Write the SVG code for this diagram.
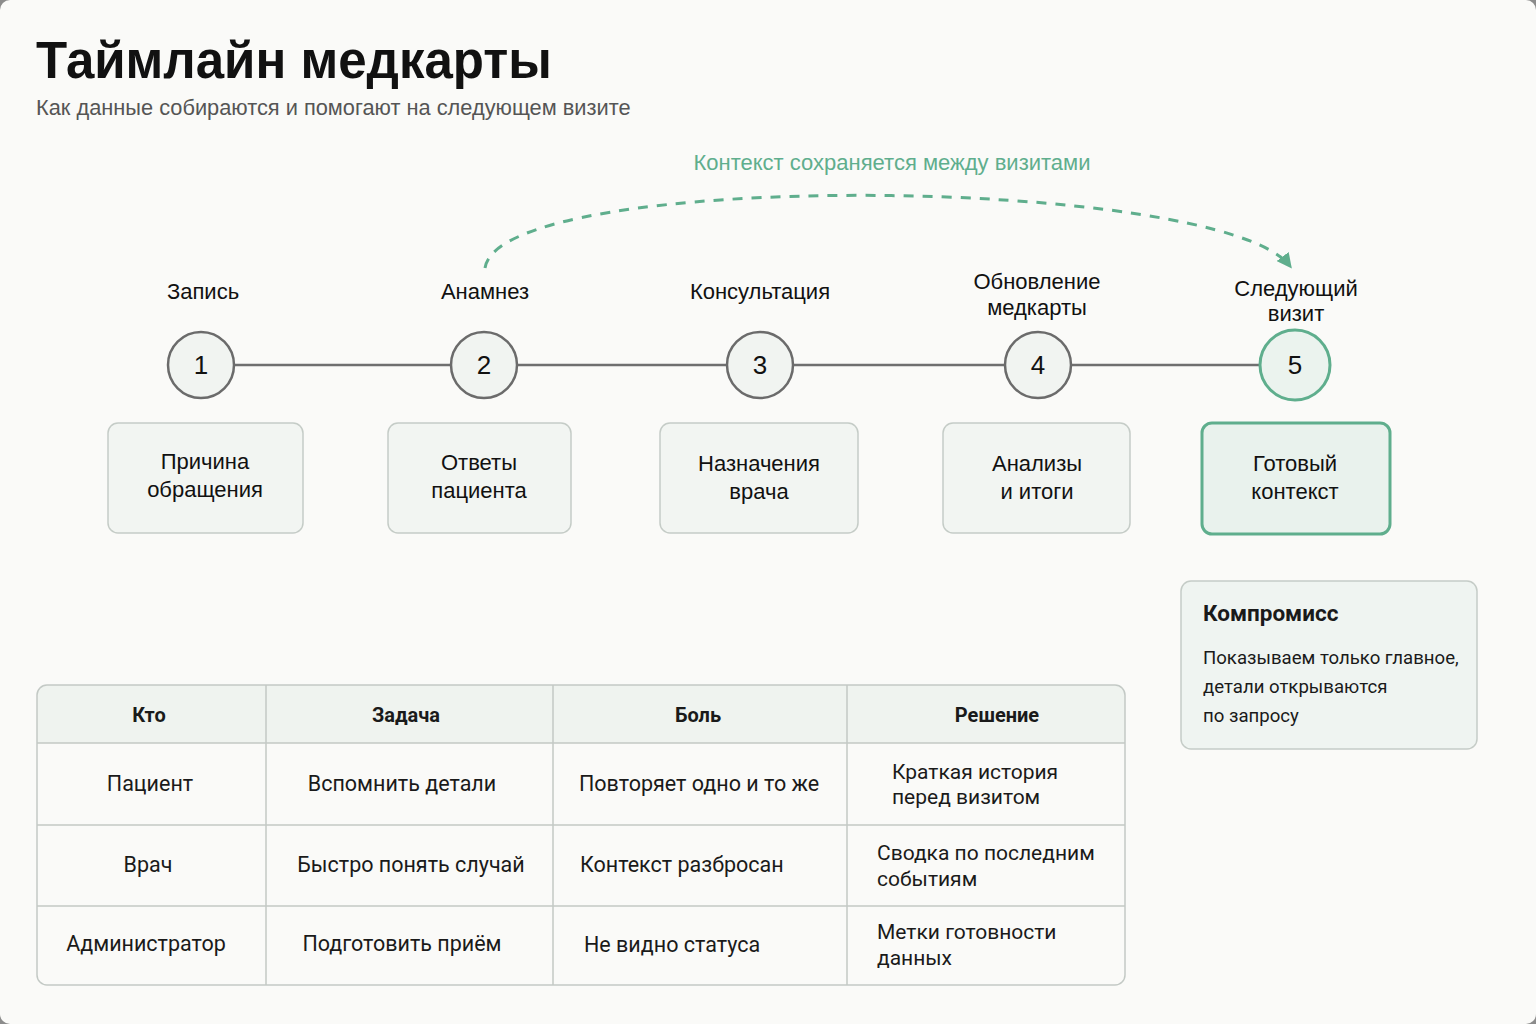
<svg xmlns="http://www.w3.org/2000/svg" width="1536" height="1024" viewBox="0 0 1536 1024">
<style>
.t{font-family:"Liberation Sans",Arial,sans-serif;fill:#111}
.r{font-family:Roboto,"Liberation Sans",sans-serif;fill:#1a1a1a}
.lbl{font-size:22px;text-anchor:middle}
.num{font-size:26px;text-anchor:middle}
.circ{fill:#f1f4f1;stroke:#6b6b6b;stroke-width:2.5}
.box{fill:#f2f5f2;stroke:#c5ccc7;stroke-width:1.5}
.grid{stroke:#c3c9c5;stroke-width:1.5;fill:none}
.th{font-size:20px;font-weight:bold;text-anchor:middle}
.td{font-size:21.5px}
.tds{font-size:21px}
</style>
<defs>
<marker id="ah" viewBox="0 0 10 10" refX="8" refY="5" markerWidth="5" markerHeight="5" orient="auto" markerUnits="strokeWidth">
<path d="M0,0 L10,5 L0,10 Z" fill="#5fae8d"/>
</marker>
</defs>
<rect width="1536" height="1024" fill="#8c8c8c"/>
<rect width="1536" height="1024" rx="10" fill="#fafaf8"/>

<text class="t" x="36" y="78" font-size="51" font-weight="bold">Таймлайн медкарты</text>
<text class="t" x="36" y="115" font-size="21.8" style="fill:#555">Как данные собираются и помогают на следующем визите</text>

<g id="connectors">
<line x1="234" y1="365" x2="1260" y2="365" stroke="#6f6f6f" stroke-width="2.5"/>
<path d="M485,268 C500,168 1220,175 1290,266" fill="none" stroke="#5fae8d" stroke-width="3" stroke-dasharray="10,9" marker-end="url(#ah)"/>
<text class="t" x="892" y="170" font-size="22" text-anchor="middle" style="fill:#5fae8d">Контекст сохраняется между визитами</text>
</g>

<g id="step1">
<text class="t lbl" x="203" y="299">Запись</text>
<circle class="circ" cx="201" cy="365" r="33"/>
<text class="t num" x="201" y="374">1</text>
<rect class="box" x="108" y="423" width="195" height="110" rx="10"/>
<text class="t lbl" x="205" y="469">Причина</text>
<text class="t lbl" x="205" y="497">обращения</text>
</g>
<g id="step2">
<text class="t lbl" x="485" y="299">Анамнез</text>
<circle class="circ" cx="484" cy="365" r="33"/>
<text class="t num" x="484" y="374">2</text>
<rect class="box" x="388" y="423" width="183" height="110" rx="10"/>
<text class="t lbl" x="479" y="470">Ответы</text>
<text class="t lbl" x="479" y="498">пациента</text>
</g>
<g id="step3">
<text class="t lbl" x="760" y="299">Консультация</text>
<circle class="circ" cx="760" cy="365" r="33"/>
<text class="t num" x="760" y="374">3</text>
<rect class="box" x="660" y="423" width="198" height="110" rx="10"/>
<text class="t lbl" x="759" y="471">Назначения</text>
<text class="t lbl" x="759" y="499">врача</text>
</g>
<g id="step4">
<text class="t lbl" x="1037" y="289">Обновление</text>
<text class="t lbl" x="1037" y="315">медкарты</text>
<circle class="circ" cx="1038" cy="365" r="33"/>
<text class="t num" x="1038" y="374">4</text>
<rect class="box" x="943" y="423" width="187" height="110" rx="10"/>
<text class="t lbl" x="1037" y="471">Анализы</text>
<text class="t lbl" x="1037" y="499">и итоги</text>
</g>
<g id="step5">
<text class="t lbl" x="1296" y="296">Следующий</text>
<text class="t lbl" x="1296" y="321">визит</text>
<circle cx="1295" cy="365" r="35" fill="#ebf3ee" stroke="#5fae8d" stroke-width="3"/>
<text class="t num" x="1295" y="374">5</text>
<rect x="1202" y="423" width="188" height="111" rx="10" fill="#e9f2ed" stroke="#5fae8d" stroke-width="3"/>
<text class="t lbl" x="1295" y="471">Готовый</text>
<text class="t lbl" x="1295" y="499">контекст</text>
</g>

<g id="compromise">
<rect x="1181" y="581" width="296" height="168" rx="10" fill="#eff4f1" stroke="#c5ccc7" stroke-width="1.5"/>
<text class="r" x="1203" y="621" font-size="22.5" font-weight="bold">Компромисс</text>
<text class="r" x="1203" y="664" font-size="18.6">Показываем только главное,</text>
<text class="r" x="1203" y="693" font-size="18.6">детали открываются</text>
<text class="r" x="1203" y="722" font-size="18.6">по запросу</text>
</g>

<g id="table">
<path d="M37,743 V695 a10,10 0 0 1 10,-10 H1115 a10,10 0 0 1 10,10 V743 Z" fill="#eff3ef"/>
<rect x="37" y="685" width="1088" height="300" rx="10" class="grid"/>
<line class="grid" x1="37" y1="743" x2="1125" y2="743"/>
<line class="grid" x1="37" y1="825" x2="1125" y2="825"/>
<line class="grid" x1="37" y1="906" x2="1125" y2="906"/>
<line class="grid" x1="266" y1="685" x2="266" y2="985"/>
<line class="grid" x1="553" y1="685" x2="553" y2="985"/>
<line class="grid" x1="847" y1="685" x2="847" y2="985"/>
<text class="r th" x="149" y="722">Кто</text>
<text class="r th" x="406" y="722">Задача</text>
<text class="r th" x="698" y="722">Боль</text>
<text class="r th" x="997" y="722">Решение</text>

<text class="r td" x="150" y="791" text-anchor="middle">Пациент</text>
<text class="r td" x="402" y="791" text-anchor="middle">Вспомнить детали</text>
<text class="r td" x="579" y="791">Повторяет одно и то же</text>
<text class="r tds" x="892" y="779">Краткая история</text>
<text class="r tds" x="892" y="804">перед визитом</text>

<text class="r td" x="148" y="872" text-anchor="middle">Врач</text>
<text class="r td" x="411" y="872" text-anchor="middle">Быстро понять случай</text>
<text class="r td" x="580" y="872">Контекст разбросан</text>
<text class="r tds" x="877" y="860">Сводка по последним</text>
<text class="r tds" x="877" y="886">событиям</text>

<text class="r td" x="146" y="951" text-anchor="middle">Администратор</text>
<text class="r td" x="402" y="951" text-anchor="middle">Подготовить приём</text>
<text class="r td" x="584" y="952">Не видно статуса</text>
<text class="r tds" x="877" y="939">Метки готовности</text>
<text class="r tds" x="877" y="965">данных</text>
</g>
</svg>
